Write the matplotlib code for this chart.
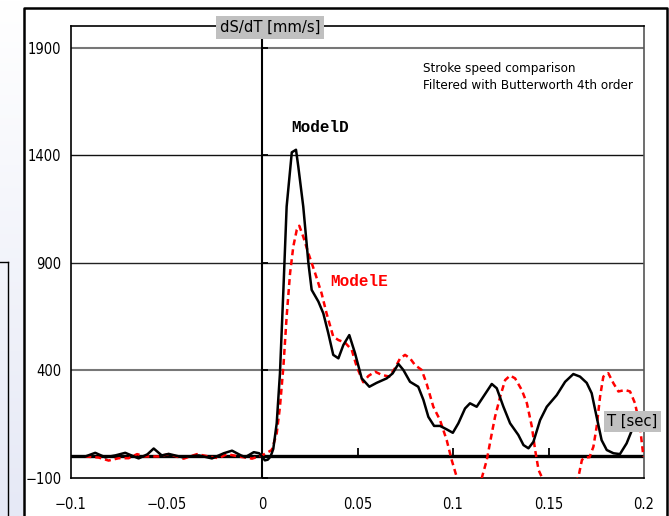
"""
Stroke speed comparison chart (ModelD vs ModelE), Butterworth filtered.
Saves the figure as out.png.
"""

import numpy as np
import matplotlib
matplotlib.use("Agg")
import matplotlib.pyplot as plt
from matplotlib.lines import Line2D

# ---- data ----
model_d_t = [-0.0925, -0.0873, -0.082, -0.0768, -0.0716, -0.0646, -0.060, -0.0567, -0.0525,
             -0.0489, -0.0419, -0.0331, -0.0262, -0.020, -0.0157, -0.011, -0.0087, -0.0043,
             -0.0015, 0.0, 0.0015, 0.003, 0.0045, 0.0059, 0.0077, 0.0094, 0.0112, 0.0129,
             0.0156, 0.0178, 0.019, 0.0216, 0.0243, 0.026, 0.0295, 0.0321, 0.0347, 0.0373,
             0.040, 0.0426, 0.0457, 0.0487, 0.0522, 0.0562, 0.060, 0.0653, 0.0684, 0.0714,
             0.074, 0.0775, 0.0818, 0.0845, 0.0871, 0.0901, 0.0932, 0.0967, 0.0999, 0.1028,
             0.1063, 0.1089, 0.1124, 0.1159, 0.1203, 0.1229, 0.1264, 0.1299, 0.1342, 0.1369,
             0.1395, 0.1421, 0.1456, 0.1491, 0.1543, 0.1587, 0.163, 0.1665, 0.170, 0.1726,
             0.1752, 0.1778, 0.1805, 0.184, 0.1874, 0.1909, 0.1944, 0.197]
model_d_v = [0, 17, -4, 5, 17, -9, 10, 37, 5,
             12, -3, 5, -9, 15, 27, 5, -3, 20,
             15, 0, -18, -15, 0, 35, 154, 386, 774, 1161,
             1413, 1425, 1347, 1161, 898, 774, 720, 665, 573, 472,
             456, 518, 564, 480, 363, 324, 342, 363, 386, 430,
             402, 347, 324, 263, 184, 142, 142, 126, 110, 154,
             223, 247, 231, 278, 337, 317, 231, 154, 100, 53,
             38, 68, 169, 231, 285, 347, 383, 371, 342, 294,
             184, 76, 30, 15, 11, 61, 138, 205]

model_e_t = [-0.0925, -0.0855, -0.0803, -0.075, -0.0698, -0.0654, -0.0611, -0.0541, -0.0489,
             -0.041, -0.034, -0.0279, -0.0227, -0.0183, -0.0122, -0.0052, 0.0, 0.0051,
             0.0077, 0.0094, 0.0112, 0.0129, 0.0147, 0.0164, 0.0182, 0.0195, 0.0216, 0.0243,
             0.0278, 0.0312, 0.0338, 0.0373, 0.040, 0.0435, 0.047, 0.0496, 0.053, 0.0557,
             0.0592, 0.0627, 0.0667, 0.0696, 0.0723, 0.0749, 0.0775, 0.0801, 0.0836, 0.0862,
             0.0897, 0.0932, 0.0967, 0.0993, 0.1019, 0.1085, 0.115, 0.1177, 0.1203, 0.122,
             0.1247, 0.1273, 0.1299, 0.1325, 0.136, 0.1387, 0.1413, 0.143, 0.1448, 0.155,
             0.1657, 0.1675, 0.169, 0.1715, 0.1735, 0.1752, 0.177, 0.1787, 0.1813, 0.184,
             0.1866, 0.1901, 0.1927, 0.1953, 0.1979, 0.1997]
model_e_v = [0, -5, -19, -8, -8, 11, 0, 0, 11,
             -10, 11, 0, -8, 11, 0, -10, 5, 30,
             107, 231, 417, 650, 852, 976, 1053, 1072, 1021, 944,
             852, 758, 665, 557, 541, 529, 495, 417, 345, 374,
             394, 379, 371, 410, 456, 472, 456, 425, 402, 338,
             231, 169, 76, -16, -94, -230, -102, -16, 107, 184,
             278, 355, 376, 363, 309, 247, 138, 30, -63, -260,
             -94, -16, -5, -3, 45, 138, 278, 371, 387, 340,
             302, 309, 302, 247, 138, -1]

x_ticks = [-0.1, -0.05, 0, 0.05, 0.1, 0.15, 0.2]
x_tick_labels = ["\u22120.1", "\u22120.05", "0", "0.05", "0.1", "0.15", "0.2"]
y_ticks = [-100, 400, 900, 1400, 1900]
y_tick_labels = ["\u2212100", "400", "900", "1400", "1900"]

# narrow sans for the labels
SANS = dict(family="DejaVu Sans", stretch="condensed")
MONO = ["Liberation Mono", "DejaVu Sans Mono"]

fig = plt.figure(figsize=(6.69, 5.16), dpi=100)

# slide-like background on the left and the outer frame
bg = fig.add_axes([0, 0, 23 / 669, 1])
grad = np.linspace(0, 1, 256).reshape(-1, 1)
bg.imshow(grad, aspect="auto", cmap=matplotlib.colors.LinearSegmentedColormap.from_list(
    "bgfade", ["#e6e9f6", "#ffffff"]), origin="lower", extent=[0, 1, 0, 1])
bg.set_axis_off()
fig.add_artist(Line2D([7.5 / 669, 7.5 / 669], [0, 1 - 262 / 516], color="k", lw=1))
fig.add_artist(Line2D([0, 7.5 / 669], [1 - 262 / 516, 1 - 262 / 516], color="k", lw=1))
frame_x = [23.5 / 669, 23.5 / 669, 666.5 / 669, 666.5 / 669]
frame_y = [0, 1 - 7.5 / 516, 1 - 7.5 / 516, 0]
fig.add_artist(Line2D(frame_x, frame_y, color="k", lw=1.8))

ax = fig.add_axes([71 / 669, 38 / 516, 573 / 669, 452 / 516])
ax.set_xlim(-0.1, 0.2)
ax.set_ylim(-100, 2000)

# grid lines
for y, col, lw in [(400, "#777777", 1.5), (900, "#222222", 1.0),
                   (1400, "#111111", 1.0), (1900, "#777777", 1.5)]:
    ax.axhline(y, color=col, lw=lw, zorder=1)
ax.axhline(0, color="k", lw=2.4, zorder=2)
ax.axvline(0, color="k", lw=1.5, zorder=2)

# small ticks on the zero lines
ax.plot([0.05, 0.1, 0.15], [0, 0, 0], ls="none", marker=2, ms=6, mew=1.3, color="k", zorder=2)
ax.plot([0] * len(y_ticks), y_ticks, ls="none", marker=1, ms=4, mew=1.3, color="k", zorder=2)

ax.plot(model_d_t, model_d_v, color="k", lw=1.8, zorder=4)
ax.plot(model_e_t, model_e_v, color="#ff0000", lw=1.8, dashes=(2.4, 1.6), zorder=3)

ax.set_xticks(x_ticks)
ax.set_xticklabels(x_tick_labels)
ax.set_yticks(y_ticks)
ax.set_yticklabels(y_tick_labels)
ax.tick_params(length=0, labelsize=10.5)
ax.tick_params(axis="x", pad=14)
ax.tick_params(axis="y", pad=7)
for lbl in ax.get_xticklabels() + ax.get_yticklabels():
    lbl.set_family(SANS["family"])
    lbl.set_stretch(SANS["stretch"])
for side in ["left", "top", "bottom", "right"]:
    ax.spines[side].set_linewidth(1.2)
ax.spines["right"].set_color("#555555")

# labels and annotations
ax.text(0.0042, 1992, "dS/dT [mm/s]", ha="center", va="center", fontsize=11.8,
        clip_on=False, zorder=6, **SANS,
        bbox=dict(boxstyle="square,pad=0.25", fc="#c0c0c0", ec="none"))
ax.text(0.194, 163, "T [sec]", ha="center", va="center", fontsize=11.8,
        clip_on=False, zorder=6, **SANS,
        bbox=dict(boxstyle="square,pad=0.2", fc="#c0c0c0", ec="none"))
ax.text(0.0843, 1832, "Stroke speed comparison\nFiltered with Butterworth 4th order",
        ha="left", va="top", fontsize=9.6, linespacing=1.35, **SANS)
ax.text(0.0304, 1527, "ModelD", ha="center", va="center", fontsize=11.5,
        family=MONO, fontweight="bold", color="k")
ax.text(0.0508, 811, "ModelE", ha="center", va="center", fontsize=11.5,
        family=MONO, fontweight="bold", color="#ff0000")

fig.savefig("out.png", dpi=100)
